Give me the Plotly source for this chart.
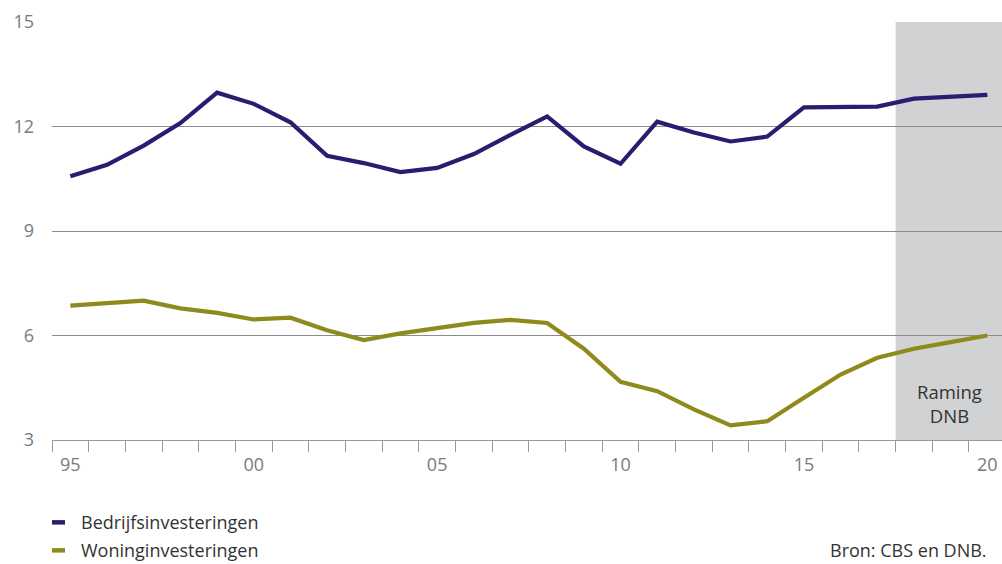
import plotly.graph_objects as go

# Investment series (share, in %), 1995-2020; 2018-2020 are DNB projections
years = list(range(1995, 2021))
bedrijf = [10.57, 10.90, 11.45, 12.10, 12.97, 12.65, 12.12, 11.16, 10.95, 10.69,
           10.81, 11.21, 11.76, 12.29, 11.43, 10.93, 12.14, 11.83, 11.57, 11.71,
           12.55, 12.55, 12.57, 12.80, 12.87, 12.91]
woning = [6.86, 6.92, 7.00, 6.78, 6.65, 6.46, 6.51, 6.15, 5.87, 6.06,
          6.22, 6.36, 6.45, 6.36, 5.62, 4.67, 4.40, 3.88, 3.42, 3.54,
          4.21, 4.88, 5.36, 5.62, 5.81, 6.00]

x_labels = ["95", "00", "05", "10", "15", "20"]
x_label_years = [1995, 2000, 2005, 2010, 2015, 2020]
y_ticks = [3, 6, 9, 12, 15]

series_names = ["Bedrijfsinvesteringen", "Woninginvesteringen"]
series_colors = ["#2a1c70", "#8e8a1c"]
forecast_start = 2017.5

FONT = "Open Sans"
TEXT = "#333333"
GREY = "#7a7a7a"

fig = go.Figure()
for name, vals, col in zip(series_names, [bedrijf, woning], series_colors):
    fig.add_trace(go.Scatter(x=years, y=vals, mode="lines", name=name,
                             line=dict(color=col, width=4.2), showlegend=False))

x_range = [1994.5, 2020.4]

# Shaded projection period
fig.add_shape(type="rect", xref="x", yref="y", x0=forecast_start, x1=x_range[1],
              y0=3, y1=15, fillcolor="#d1d2d4", line=dict(width=0), layer="below")
fig.add_annotation(x=2018.98, y=4.05, xref="x", yref="y", text="Raming<br>DNB",
                   showarrow=False, font=dict(family=FONT, size=18.5, color=TEXT),
                   align="center")

# Legend below the chart
legend_y = [-0.197, -0.264]
for name, col, ly in zip(series_names, series_colors, legend_y):
    fig.add_shape(type="line", xref="paper", yref="paper", x0=0.0, x1=0.0137,
                  y0=ly, y1=ly, line=dict(color=col, width=4.5))
    fig.add_annotation(x=0.0285, y=ly, xref="paper", yref="paper", text=name,
                       showarrow=False, xanchor="left", yanchor="middle",
                       font=dict(family=FONT, size=18, color=TEXT))

fig.add_annotation(x=0.986, y=-0.264, xref="paper", yref="paper",
                   text="Bron: CBS en DNB.", showarrow=False,
                   xanchor="right", yanchor="middle",
                   font=dict(family=FONT, size=18, color=TEXT))

fig.update_xaxes(range=x_range, tickmode="array", tickvals=x_label_years,
                 ticktext=x_labels, ticks="", showgrid=False, zeroline=False,
                 showline=True, linecolor="#999999", linewidth=1,
                 tickfont=dict(family=FONT, size=18, color=GREY),
                 ticklabelstandoff=8,
                 minor=dict(tickmode="linear", tick0=0.5, dtick=1, ticks="outside",
                            ticklen=11, tickcolor="#999999", tickwidth=1,
                            showgrid=False))
fig.update_yaxes(range=[3, 15], tickmode="array", tickvals=y_ticks, ticks="",
                 showgrid=True, gridcolor="#8c8c8c", gridwidth=1, zeroline=False,
                 showline=False, tickfont=dict(family=FONT, size=18, color=GREY),
                 ticklabelstandoff=17)

fig.update_layout(width=1002, height=564, margin=dict(l=52, r=0, t=22, b=124),
                  plot_bgcolor="white", paper_bgcolor="white",
                  font=dict(family=FONT, color=TEXT))

fig.write_html("out.html")
